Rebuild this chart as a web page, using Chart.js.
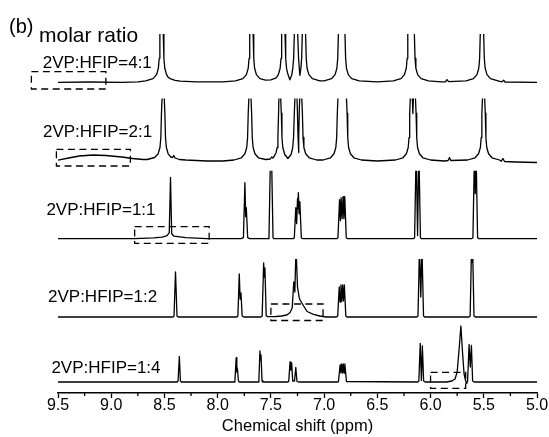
<!DOCTYPE html>
<html>
<head>
<meta charset="utf-8">
<script src="https://cdn.jsdelivr.net/npm/chart.js@4.4.0/dist/chart.umd.min.js"></script>
<style>
  html, body { margin: 0; padding: 0; background: #fff; }
  canvas { display: block; }
</style>
</head>
<body>
<canvas id="nmr" width="549" height="437"></canvas>
<script>
// molar ratios, top to bottom
const ratios = ['4:1', '2:1', '1:1', '1:2', '1:4'];
// vertical offset of each trace (stacked plot, a.u.)
const offsets = [310.7, 231.5, 154.3, 76, 11];
// level where each trace was cut off in the figure (null = not cut)
const cutoff = [null, 63, 68, 58, null];

const majorTicks = [9.5, 9.0, 8.5, 8.0, 7.5, 7.0, 6.5, 6.0, 5.5, 5.0];
const minorTicks = [9.25, 8.75, 8.25, 7.75, 7.25, 6.75, 6.25, 5.75, 5.25];

// spectra: [shift (ppm), intensity (a.u.)]
const spec41 = [
  [9.5,0],[9.2,0.3],[8.9,0],[8.75,0.5],
  [8.677,1.5],[8.607,3.7],[8.574,7.7],[8.557,14],[8.549,24],[8.543,48],[8.527,90],[8.511,48],[8.505,24],[8.497,14],[8.48,7.7],[8.465,5],[8.447,3.7],[8.40,2],[8.35,1.2],
  [8.2,0.5],[7.95,0.5],
  [7.833,1.5],[7.763,3.7],[7.73,7.7],[7.713,14],[7.705,24],[7.699,48],[7.683,90],[7.667,48],[7.661,24],[7.653,14],[7.636,7.7],[7.603,3.7],[7.55,2.2],[7.50,2.5],
  [7.45,4.5],[7.43,7.7],[7.413,14],[7.405,24],[7.399,48],[7.383,90],[7.367,48],[7.361,24],[7.353,14],[7.34,8],[7.322,2.5],
  [7.305,7],[7.294,14],[7.286,24],[7.28,48],[7.264,90],[7.248,48],[7.24,24],[7.228,7],
  [7.218,14],[7.211,24],[7.205,48],[7.19,90],[7.174,48],[7.168,24],[7.16,14],[7.143,7.7],[7.11,3.7],[7.04,1.5],
  [7.0,1.5],[6.93,3.7],[6.897,7.7],[6.88,14],[6.872,24],[6.866,48],[6.85,90],[6.835,60],[6.82,90],[6.804,48],[6.798,24],[6.79,14],[6.773,7.7],[6.74,3.7],[6.67,1.5],
  [6.5,0.5],
  [6.35,1.5],[6.278,3.7],[6.245,7.7],[6.228,14],[6.22,24],[6.214,48],[6.198,90],[6.183,60],[6.168,90],[6.152,48],[6.146,24],[6.138,14],[6.121,7.7],[6.088,3.7],[6.02,1.5],
  [5.9,0.5],[5.86,0.5],[5.846,2.7],[5.83,0.6],
  [5.667,1.5],[5.597,3.7],[5.564,7.7],[5.547,14],[5.539,24],[5.533,48],[5.517,90],[5.501,48],[5.495,24],[5.487,14],[5.47,7.7],[5.437,3.7],[5.367,1.5],
  [5.33,0.4],[5.314,2],[5.30,0.3],[5.0,0]
];

const spec21 = [
  [9.5,1.3],[9.4,3.5],[9.3,5.5],[9.17,6.5],[9.05,6],[8.9,4.5],[8.8,3],[8.7,2],
  [8.662,2],[8.592,4],[8.559,7.7],[8.542,14],[8.534,24],[8.528,48],[8.512,90],[8.496,48],[8.49,24],[8.482,14],[8.465,7.7],[8.44,4.5],[8.422,4],[8.412,6],[8.40,3.5],[8.36,2],[8.3,1.5],
  [8.1,0.5],[7.95,0.5],
  [7.847,1.5],[7.777,3.7],[7.744,7.7],[7.727,14],[7.719,24],[7.713,48],[7.697,90],[7.681,48],[7.675,24],[7.667,14],[7.65,7.7],[7.617,3.7],[7.55,2],[7.505,2.5],[7.493,4.5],[7.482,3.5],
  [7.47,5],[7.451,9],[7.441,14],[7.434,24],[7.428,48],[7.418,90],[7.402,48],[7.396,24],[7.388,14],[7.37,7],[7.34,3],
  [7.31,7],[7.295,14],[7.287,24],[7.28,48],[7.264,90],[7.252,55],[7.245,25],[7.241,9],[7.236,25],[7.232,55],[7.22,90],[7.204,48],[7.198,24],[7.19,14],[7.173,7.7],[7.14,3.7],[7.07,1.5],
  [7.01,1.5],[6.94,3.7],[6.907,7.7],[6.89,14],[6.882,24],[6.876,48],[6.86,90],[6.83,70],[6.80,90],[6.784,48],[6.778,24],[6.77,14],[6.753,7.7],[6.72,3.7],[6.65,1.5],
  [6.5,0.5],
  [6.33,1.5],[6.26,3.7],[6.227,7.7],[6.21,14],[6.202,24],[6.196,48],[6.18,90],[6.166,48],[6.152,90],[6.136,48],[6.13,24],[6.122,14],[6.105,7.7],[6.072,3.7],[6.0,1.5],
  [5.87,0.5],[5.835,1],[5.822,4],[5.81,1],
  [5.652,1.5],[5.582,3.7],[5.549,7.7],[5.532,14],[5.524,24],[5.518,48],[5.502,90],[5.486,48],[5.48,24],[5.472,14],[5.455,7.7],[5.422,3.7],[5.352,1.5],
  [5.335,0.3],[5.32,3],[5.305,0],[5.2,-0.5],[5.0,-1]
];

const spec11 = [
  [9.5,0],[8.78,0],[8.6,0.8],[8.52,1.5],[8.475,3],[8.455,6],[8.443,61.4],[8.432,5],[8.41,2.5],[8.3,1],[8.1,0],
  [7.78,0],[7.758,1],[7.744,56],[7.737,22],[7.731,31],[7.718,1],[7.70,0],
  [7.525,0],[7.518,1],[7.503,90],[7.499,70],[7.495,90],[7.48,1],[7.47,0],
  [7.29,0],[7.28,1],[7.266,31],[7.258,15],[7.25,40],[7.246,30],[7.242,46],[7.235,25],[7.228,37],[7.214,1],[7.20,0],
  [6.88,0],[6.87,1],[6.855,39],[6.847,18],[6.84,41],[6.831,20],[6.822,42],[6.814,20],[6.806,42],[6.792,1],[6.78,0],
  [6.16,0],[6.15,1],[6.135,90],[6.122,3],[6.11,90],[6.095,1],[6.085,0],
  [5.615,0],[5.602,1],[5.587,90],[5.58,45],[5.573,90],[5.558,1],[5.545,0],
  [5.0,0]
];

const spec12 = [
  [9.5,0],[8.42,0],[8.41,1],[8.396,45],[8.382,1],[8.37,0],
  [7.82,0],[7.81,1],[7.797,43],[7.789,18],[7.781,24],[7.77,1],[7.755,0],
  [7.595,0],[7.582,1],[7.568,54],[7.562,40],[7.556,49],[7.544,1],[7.53,0.3],
  [7.45,0.5],[7.40,1],[7.35,2],[7.32,4.5],[7.30,9],[7.285,35],[7.275,25],[7.264,70],[7.25,30],[7.235,20],[7.226,17],[7.195,11.5],[7.16,5.5],[7.10,2.7],[7.04,1],[6.98,0],
  [6.885,0],[6.872,1],[6.858,30],[6.85,15],[6.842,32],[6.834,16],[6.826,32],[6.818,16],[6.81,32],[6.796,1],[6.785,0],
  [6.13,0],[6.118,1],[6.104,70],[6.092,20],[6.081,70],[6.066,1],[6.055,0],
  [5.64,0],[5.628,1],[5.615,70],[5.61,55],[5.605,70],[5.592,1],[5.58,0],
  [5.0,0]
];

const spec14 = [
  [9.5,0],[8.38,0],[8.372,1],[8.36,25.5],[8.35,1],[8.34,0],
  [7.845,0],[7.838,1],[7.826,24.3],[7.82,10],[7.815,14],[7.805,1],[7.795,0],
  [7.62,0],[7.613,1],[7.603,31],[7.598,22],[7.593,27],[7.583,1],[7.575,0],
  [7.34,0],[7.332,1],[7.32,20],[7.313,12],[7.305,19],[7.295,1],[7.278,1],[7.266,14.5],[7.255,0.5],[7.24,0],
  [6.87,0],[6.865,0.5],[6.85,17],[6.842,9],[6.835,18],[6.827,9],[6.82,18],[6.812,9],[6.805,18],[6.79,0.5],
  [6.12,0],[6.11,1],[6.097,38.5],[6.086,1.5],[6.077,36],[6.065,1],[6.05,0],
  [5.85,0],[5.80,1],[5.77,3],[5.75,10],[5.73,35],[5.715,56],[5.70,30],[5.685,8],[5.67,1],[5.66,-1.5],[5.652,1],[5.638,37.5],[5.627,15],[5.616,36.5],[5.605,1],[5.59,0],
  [5.0,0]
];

const spectra = [spec41, spec21, spec11, spec12, spec14];

// dashed highlight boxes: [from ppm, to ppm, low, high] relative to each trace
const boxes = [
  [9.75, 9.05, -6.7, 10.6],
  [9.515, 8.82, -4.5, 12.2],
  [8.78, 8.08, -4.6, 12],
  [7.50, 7.01, -3.5, 13],
  [6.0, 5.67, -6.3, 9.7]
];
// label anchor: [ppm of left edge, height above trace]
const labelAt = [[9.644, 18.6], [9.641, 29.5], [9.609, 28.2], [9.594, 20], [9.562, 14]];

const Y_MAX = 359;
const FONT = '"Liberation Sans", Arial, Helvetica, sans-serif';

const decorations = {
  id: 'decorations',
  afterDatasetsDraw(chart) {
    const {ctx, chartArea, scales: {x, y}} = chart;
    ctx.save();
    ctx.strokeStyle = '#000';
    ctx.lineWidth = 1.3;
    // minor ticks
    minorTicks.forEach(v => {
      const px = x.getPixelForValue(v);
      ctx.beginPath();
      ctx.moveTo(px, chartArea.bottom);
      ctx.lineTo(px, chartArea.bottom + 3);
      ctx.stroke();
    });
    // dashed boxes
    ctx.setLineDash([7, 4.5]);
    boxes.forEach((b, i) => {
      const x1 = x.getPixelForValue(b[0]), x2 = x.getPixelForValue(b[1]);
      const y1 = y.getPixelForValue(offsets[i] + b[3]), y2 = y.getPixelForValue(offsets[i] + b[2]);
      ctx.strokeRect(x1, y1, x2 - x1, y2 - y1);
    });
    ctx.setLineDash([]);
    // trace labels
    ctx.fillStyle = '#000';
    ctx.font = '17px ' + FONT;
    ctx.textBaseline = 'middle';
    ratios.forEach((r, i) => {
      ctx.fillText('2VP:HFIP=' + r, x.getPixelForValue(labelAt[i][0]), y.getPixelForValue(offsets[i] + labelAt[i][1]));
    });
    ctx.textBaseline = 'alphabetic';
    ctx.font = '20px ' + FONT;
    ctx.fillText('(b)', 9, 33);
    ctx.font = '21px ' + FONT;
    ctx.fillText('molar ratio', 39, 42);
    ctx.restore();
  }
};

new Chart(document.getElementById('nmr'), {
  type: 'line',
  data: {
    datasets: spectra.map((s, i) => ({
      label: '2VP:HFIP=' + ratios[i],
      data: s.map(([x, v]) => ({x: x, y: v + offsets[i]})),
      borderColor: '#000',
      borderWidth: 1.3,
      borderJoinStyle: 'round',
      pointRadius: 0,
      tension: 0,
      clip: cutoff[i] == null ? 0 : {left: 0, right: 0, bottom: 0, top: -(Y_MAX - offsets[i] - cutoff[i])}
    }))
  },
  options: {
    responsive: false,
    animation: false,
    layout: { padding: { left: 58, right: 12, top: 34, bottom: 2.5 } },
    scales: {
      x: {
        type: 'linear',
        reverse: true,
        min: 5.0,
        max: 9.5,
        ticks: {
          stepSize: 0.5,
          autoSkip: false,
          maxRotation: 0,
          padding: 0,
          color: '#000',
          font: { family: FONT, size: 16, lineHeight: 1 },
          callback: v => majorTicks.includes(Math.round(v * 10) / 10) ? v.toFixed(1) : ''
        },
        grid: {
          drawOnChartArea: false,
          drawTicks: true,
          tickLength: 5,
          tickColor: '#000',
          tickWidth: 1.3
        },
        border: { display: true, color: '#000', width: 1.5 },
        title: {
          display: true,
          text: 'Chemical shift (ppm)',
          color: '#000',
          font: { family: FONT, size: 16.5, lineHeight: 1 },
          padding: { top: 4, bottom: 0 }
        }
      },
      y: { display: false, min: 0, max: Y_MAX }
    },
    plugins: {
      legend: { display: false },
      tooltip: { enabled: false }
    }
  },
  plugins: [decorations]
});
</script>
</body>
</html>
